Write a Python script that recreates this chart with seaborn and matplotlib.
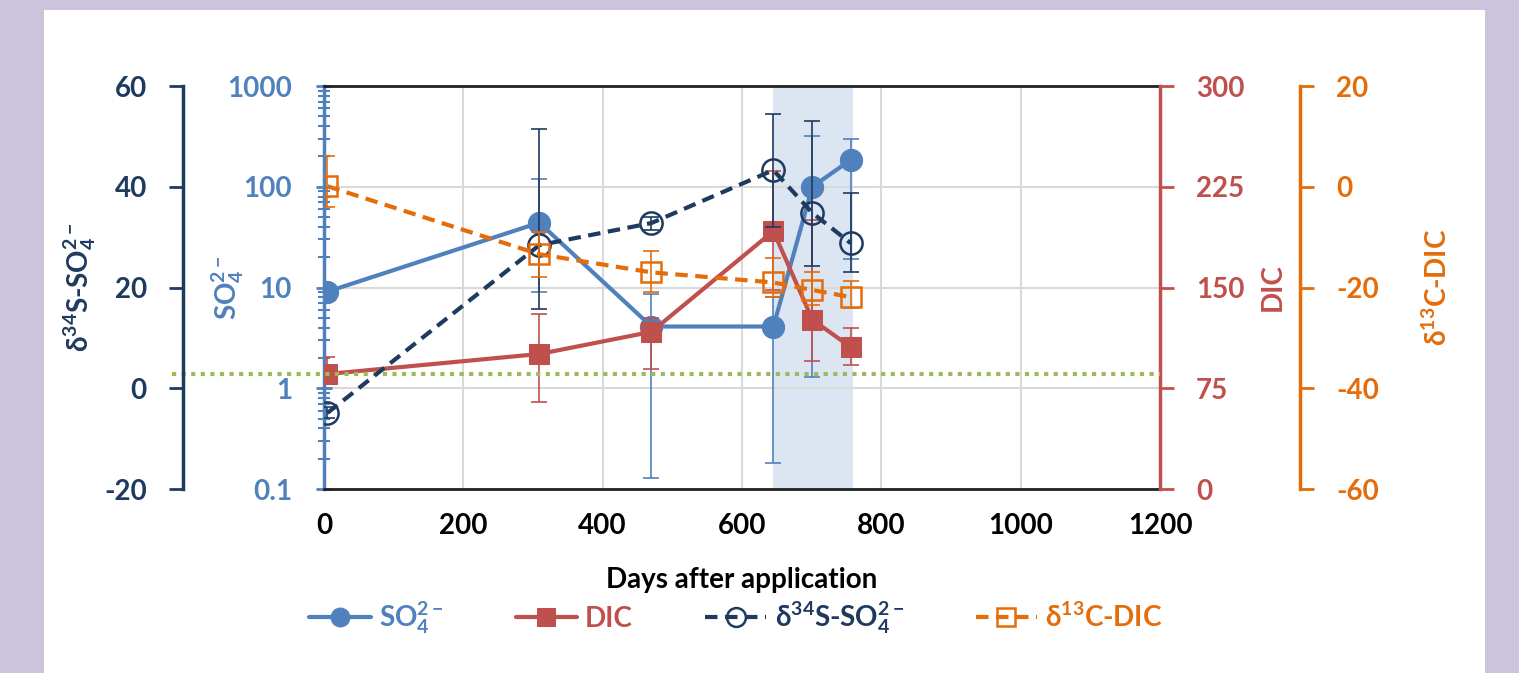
import numpy as np
import pandas as pd
import seaborn as sns
import matplotlib.pyplot as plt
from matplotlib.patches import Rectangle
from matplotlib.ticker import LogLocator, FuncFormatter, NullFormatter, MultipleLocator

# datos
days = [5, 309, 470, 645, 701, 756]

so4 = [9.1, 44, 4.1, 4.1, 100, 185]
so4_lo = [7.6, 9, 0.13, 0.18, 1.3, 19]
so4_hi = [10.6, 120, 8.6, 8.0, 316, 295]

dic = [85.6, 100.5, 117, 192, 126, 105.7]
dic_lo = [80, 65, 89, 148, 95, 92]
dic_hi = [98, 130, 127, 237, 200, 120]

d34s = [-4.9, 28.4, 32.8, 43.3, 34.8, 28.8]
d34s_lo = [-6, 15.7, 31.5, 32, 24.2, 23]
d34s_hi = [-3.8, 51.4, 34, 54.4, 53, 38.7]

d13c = [0.1, -13.4, -17, -19, -20.5, -21.9]
d13c_lo = [-4, -18, -20.9, -21.9, -23.5, -24]
d13c_hi = [6.1, -9, -12.8, -14.2, -17, -18.7]

shade_start, shade_end = 645, 759
dic_background = 85.6

C_SO4 = '#4f81bd'
C_DIC = '#c0504d'
C_D34 = '#1f3a5f'
C_D13 = '#e46c0a'
C_LIM = '#9bbb59'

sns.set_theme(style='white')
plt.rcParams['font.family'] = ['Lato', 'DejaVu Sans']
plt.rcParams['font.weight'] = 'bold'
plt.rcParams['axes.labelweight'] = 'bold'
plt.rcParams['axes.unicode_minus'] = False
plt.rcParams['mathtext.fontset'] = 'custom'
plt.rcParams['mathtext.rm'] = 'Lato:weight=bold'
plt.rcParams['mathtext.it'] = 'Lato:weight=bold'
plt.rcParams['mathtext.bf'] = 'Lato:weight=bold'
plt.rcParams['mathtext.default'] = 'rm'

FS = 20

df = pd.DataFrame({'days': days, 'so4': so4, 'dic': dic, 'd34s': d34s, 'd13c': d13c})

fig, ax = plt.subplots(figsize=(15.19, 6.73), dpi=100)
fig.set_facecolor('#ccc3dd')
fig.add_artist(Rectangle((44 / 1519, 0), (1485 - 44) / 1519, (673 - 10) / 673,
                         transform=fig.transFigure, facecolor='white', edgecolor='none', zorder=-10))
fig.subplots_adjust(left=0.2133, right=0.7637, top=0.8722, bottom=0.2734)
ax.set_facecolor('none')

ax2 = ax.twinx()   # DIC
ax3 = ax.twinx()   # d34S (izquierda, desplazado)
ax4 = ax.twinx()   # d13C (derecha, desplazado)


def errbars(a, y, lo, hi, color):
    y = np.array(y)
    yerr = [y - np.array(lo), np.array(hi) - y]
    a.errorbar(days, y, yerr=yerr, fmt='none', ecolor=color, elinewidth=1.2,
               capsize=5.5, capthick=1.2, zorder=2)


def bold_ticks(a):
    for t in a.get_xticklabels() + a.get_yticklabels():
        t.set_fontweight('bold')


# --- SO4 (log) ---
ax.axvspan(shade_start, shade_end, color='#dce6f2', zorder=0, lw=0)
errbars(ax, so4, so4_lo, so4_hi, C_SO4)
sns.lineplot(data=df, x='days', y='so4', ax=ax, color=C_SO4, lw=3, marker='o', ms=16,
             markeredgecolor=C_SO4, markerfacecolor=C_SO4, label='SO$_4^{2-}$', legend=False, zorder=3)
ax.set_yscale('log')
ax.set_ylim(0.1, 1000)
ax.set_xlim(0, 1200)
ax.xaxis.set_major_locator(MultipleLocator(200))
ax.yaxis.set_major_locator(LogLocator(base=10, numticks=10))
ax.yaxis.set_minor_locator(LogLocator(base=10, subs=np.arange(2, 10), numticks=10))
ax.yaxis.set_major_formatter(FuncFormatter(lambda v, _: f'{v:g}'))
ax.yaxis.set_minor_formatter(NullFormatter())
ax.grid(True, which='major', color='#d9d9d9', lw=1.5)
ax.set_axisbelow(True)
ax.tick_params(axis='y', which='major', direction='inout', length=12, width=2, color=C_SO4,
               labelcolor=C_SO4, labelsize=FS, pad=17, left=True)
ax.tick_params(axis='y', which='minor', direction='inout', length=8, width=1.5, color=C_SO4, left=True)
ax.tick_params(axis='x', length=0, labelsize=FS, pad=17, labelcolor='black')
for s in ['left', 'right', 'top', 'bottom']:
    ax.spines[s].set_visible(True)
ax.spines['left'].set_color(C_SO4)
ax.spines['left'].set_linewidth(2.5)
for s in ['top', 'bottom']:
    ax.spines[s].set_color('#222222')
    ax.spines[s].set_linewidth(2)
ax.spines['right'].set_visible(False)
ax.set_xlabel('Days after application', fontsize=FS, color='black', va='center', fontweight='bold')
ax.xaxis.set_label_coords(0.5, -0.2258)
ax.set_ylabel('SO$_4^{2-}$', fontsize=FS, color=C_SO4, va='center', fontweight='bold')
ax.yaxis.set_label_coords(-0.1148, 0.5)

# --- DIC ---
errbars(ax2, dic, dic_lo, dic_hi, C_DIC)
sns.lineplot(data=df, x='days', y='dic', ax=ax2, color=C_DIC, lw=3, marker='s', ms=15,
             markeredgecolor=C_DIC, markerfacecolor=C_DIC, label='DIC', legend=False, zorder=3)
ax2.axhline(dic_background, xmin=-0.182, xmax=1.0, color=C_LIM, lw=3, ls=(0, (1, 1.3)),
            clip_on=False, zorder=5)
ax2.set_ylim(0, 300)
ax2.yaxis.set_major_locator(MultipleLocator(75))
ax2.tick_params(axis='y', direction='out', length=10, width=2, color=C_DIC, labelcolor=C_DIC,
                labelsize=FS, pad=16, right=True)
ax2.set_ylabel('DIC', fontsize=FS, color=C_DIC, va='center', fontweight='bold')
ax2.yaxis.set_label_coords(1.1352, 0.5)

# --- d34S ---
errbars(ax3, d34s, d34s_lo, d34s_hi, C_D34)
sns.lineplot(data=df, x='days', y='d34s', ax=ax3, color=C_D34, lw=3, ls=(0, (3, 1.8)), marker='o',
             ms=16, markeredgecolor=C_D34, markerfacecolor='none', markeredgewidth=1.8,
             label='δ$^{34}$S-SO$_4^{2-}$', legend=False, zorder=3)
ax3.set_ylim(-20, 60)
ax3.yaxis.set_major_locator(MultipleLocator(20))
ax3.yaxis.set_label_position('left')
ax3.yaxis.set_ticks_position('left')
ax3.tick_params(axis='y', direction='out', length=10, width=2, color=C_D34, labelcolor=C_D34,
                labelsize=FS, pad=16, left=True)
ax3.set_ylabel('δ$^{34}$S-SO$_4^{2-}$', fontsize=FS, color=C_D34, va='center', fontweight='bold')
ax3.yaxis.set_label_coords(-0.2919, 0.5)

# --- d13C ---
errbars(ax4, d13c, d13c_lo, d13c_hi, C_D13)
sns.lineplot(data=df, x='days', y='d13c', ax=ax4, color=C_D13, lw=3, ls=(0, (3, 1.8)), marker='s',
             ms=15, markeredgecolor=C_D13, markerfacecolor='none', markeredgewidth=1.8,
             label='δ$^{13}$C-DIC', legend=False, zorder=3)
ax4.set_ylim(-60, 20)
ax4.yaxis.set_major_locator(MultipleLocator(20))
ax4.tick_params(axis='y', direction='out', length=10, width=2, color=C_D13, labelcolor=C_D13,
                labelsize=FS, pad=16, right=True)
ax4.set_ylabel('δ$^{13}$C-DIC', fontsize=FS, color=C_D13, va='center', fontweight='bold')
ax4.yaxis.set_label_coords(1.3313, 0.5)

# espinas de los ejes gemelos
for a in (ax2, ax3, ax4):
    for s in a.spines.values():
        s.set_visible(False)
    a.set_xlabel('')
ax2.spines['right'].set_visible(True)
ax2.spines['right'].set_color(C_DIC)
ax2.spines['right'].set_linewidth(2.5)
ax3.spines['left'].set_visible(True)
ax3.spines['left'].set_position(('axes', -0.1687))
ax3.spines['left'].set_color(C_D34)
ax3.spines['left'].set_linewidth(2.5)
ax4.spines['right'].set_visible(True)
ax4.spines['right'].set_position(('axes', 1.1675))
ax4.spines['right'].set_color(C_D13)
ax4.spines['right'].set_linewidth(2.5)

for a in (ax, ax2, ax3, ax4):
    bold_ticks(a)

# leyenda
handles, labels = [], []
for a in (ax, ax2, ax3, ax4):
    h, l = a.get_legend_handles_labels()
    handles += h
    labels += l
leg = fig.legend(handles, labels, loc='center', bbox_to_anchor=(0.4845, 0.0817), ncol=4,
                 frameon=False, prop={'size': FS, 'weight': 'bold'}, handlelength=2.2,
                 handletextpad=0.3, columnspacing=2.6, markerscale=0.85)
for t, c in zip(leg.get_texts(), [C_SO4, C_DIC, C_D34, C_D13]):
    t.set_color(c)

plt.savefig('out.png', dpi=100, facecolor=fig.get_facecolor())
